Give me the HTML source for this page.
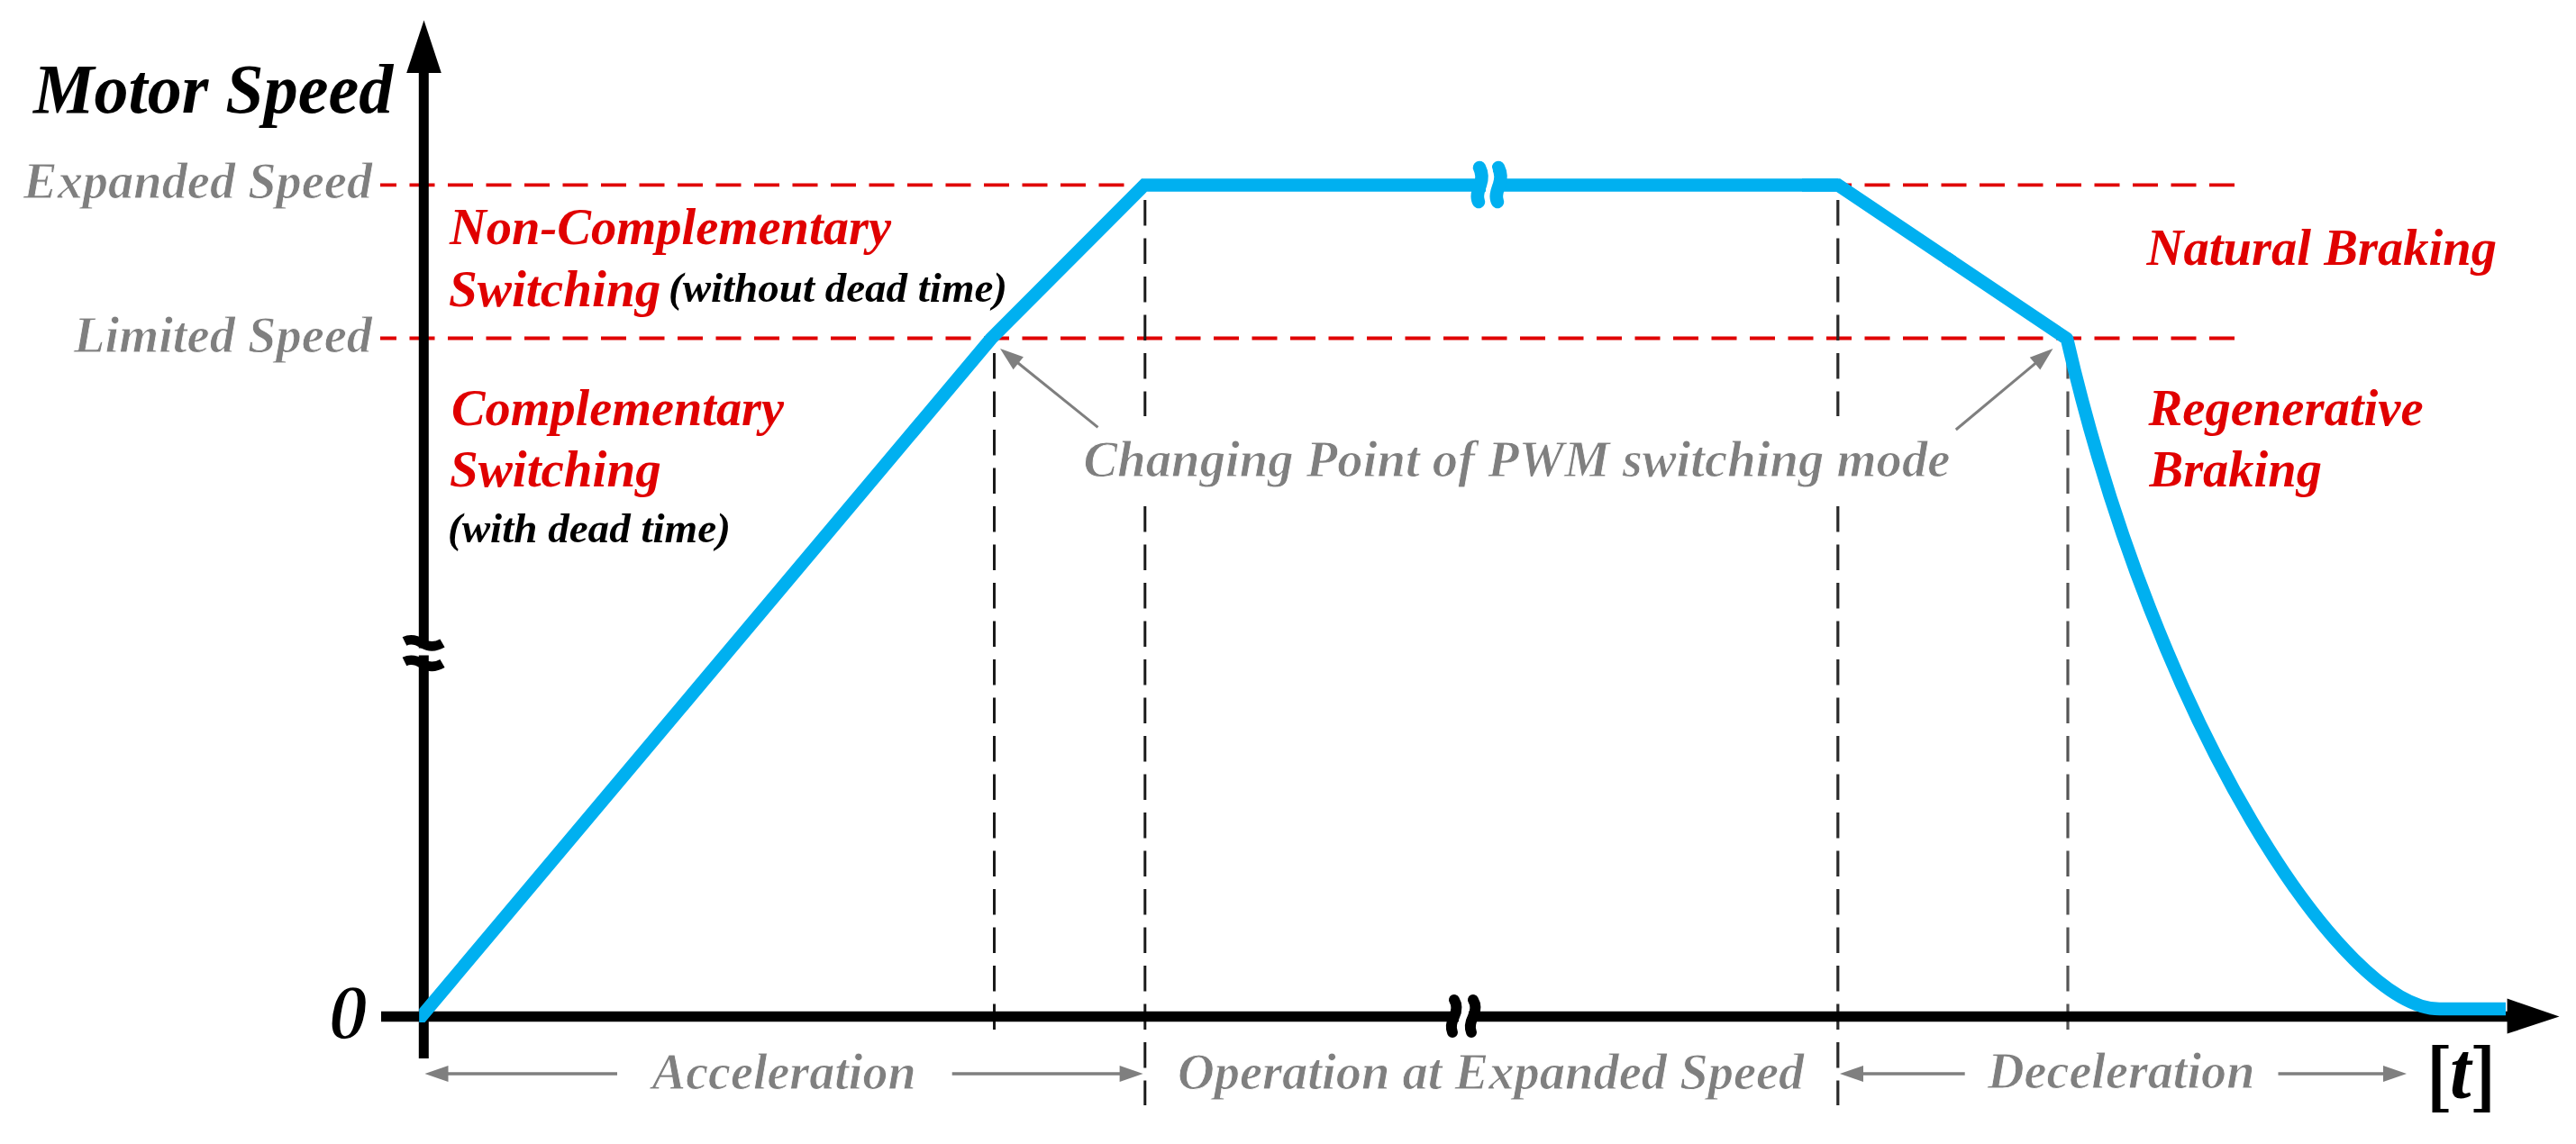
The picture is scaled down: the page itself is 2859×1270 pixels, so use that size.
<!DOCTYPE html>
<html><head><meta charset="utf-8"><style>
html,body{margin:0;padding:0;background:#fff;width:2859px;height:1270px;overflow:hidden}
svg{display:block;will-change:transform}
text{font-family:"Liberation Serif",serif;font-weight:bold;font-style:italic;white-space:pre}
text.g{stroke:#fff;stroke-width:0.8px}
text.n{stroke:#fff;stroke-width:1.6px}
</style></head><body>
<svg width="2859" height="1270" viewBox="0 0 2859 1270">
<defs><clipPath id="c1"><rect x="465.2" y="0" width="2400" height="1135"/></clipPath></defs>
<rect width="2859" height="1270" fill="#fff"/>
<g fill="none">
<path d="M422 205.3H2481" stroke="#e00000" stroke-width="3.8" stroke-dasharray="28 14.5" stroke-dashoffset="10.00"/>
<path d="M422 375.5H2481" stroke="#e00000" stroke-width="3.8" stroke-dasharray="28 14.5" stroke-dashoffset="10.00"/>
<path d="M1103.5 376V1143.5" stroke="#1a1a1a" stroke-width="3" stroke-dasharray="28.5 14" stroke-dashoffset="26.50"/>
<path d="M1270.8 206V1227" stroke="#1a1a1a" stroke-width="3" stroke-dasharray="28.5 14" stroke-dashoffset="26.50"/>
<path d="M2039.8 206V1227" stroke="#2a2a2a" stroke-width="3.2" stroke-dasharray="28.5 14" stroke-dashoffset="26.50"/>
<path d="M2295 376V1143.5" stroke="#555" stroke-width="3.2" stroke-dasharray="28.5 14" stroke-dashoffset="26.50"/>
<rect x="1262" y="462" width="18" height="99" fill="#fff"/><rect x="2031" y="462" width="18" height="99" fill="#fff"/>
<path d="M491.5 1192.0L685.0 1192.0" stroke="#7f7f7f" stroke-width="3.6"/><path d="M471.5 1192.0L497.5 1201.0L497.5 1183.0Z" fill="#7f7f7f"/>
<path d="M1248.6 1192.0L1056.7 1192.0" stroke="#7f7f7f" stroke-width="3.6"/><path d="M1268.6 1192.0L1242.6 1183.0L1242.6 1201.0Z" fill="#7f7f7f"/>
<path d="M2062.0 1192.0L2180.7 1192.0" stroke="#7f7f7f" stroke-width="3.6"/><path d="M2042.0 1192.0L2068.0 1201.0L2068.0 1183.0Z" fill="#7f7f7f"/>
<path d="M2651.0 1192.0L2528.5 1192.0" stroke="#7f7f7f" stroke-width="3.6"/><path d="M2671.0 1192.0L2645.0 1183.0L2645.0 1201.0Z" fill="#7f7f7f"/>
<path d="M1125.6 399.5L1218.5 474.3" stroke="#7f7f7f" stroke-width="3"/><path d="M1110.0 387.0L1124.6 410.3L1135.9 396.3Z" fill="#7f7f7f"/>
<path d="M2263.2 399.8L2170.8 477.0" stroke="#7f7f7f" stroke-width="3"/><path d="M2278.5 387.0L2252.8 396.8L2264.3 410.6Z" fill="#7f7f7f"/>
<path d="M470.3 1175V78" stroke="#000" stroke-width="11"/>
<path d="M470.5 22.5L489.8 81L451.2 81Z" fill="#000"/>
<path d="M423 1128.5H2785" stroke="#000" stroke-width="11.5"/>
<path d="M2840.5 1128.6L2782.6 1147.6L2782.6 1108.6Z" fill="#000"/>
<path clip-path="url(#c1)" d="M459.1 1138.5L1100 376L1270 205.5L2040 205.5" stroke="#00b0f0" stroke-width="14.5" fill="none" stroke-linejoin="miter" stroke-miterlimit="10"/>
<path d="M2000 205.5L2040 205.5L2167 290.75" stroke="#00b0f0" stroke-width="14.5" fill="none" stroke-linejoin="miter" stroke-miterlimit="10"/><path d="M2160 286.06L2294 376C2394.6 812.1 2602.5 1120 2707.4 1120L2781 1120" stroke="#00b0f0" stroke-width="14.5" fill="none" stroke-linejoin="round"/>
<rect x="455" y="719.5" width="30" height="8" fill="#fff"/>
<path d="M449 712C455 709 461 709.5 469 714.5C476 718.5 484 718 491 714" stroke="#000" stroke-width="10.5" fill="none"/>
<path d="M449 734.5C455 731.5 461 732 469 737C476 741 484 740.5 491 736.5" stroke="#000" stroke-width="10.5" fill="none"/>
<rect x="1619" y="1120" width="11" height="17" fill="#fff"/>
<path d="M1614 1110C1617 1115 1617 1122 1614 1128.5C1611 1134.5 1609.5 1140 1612 1146" stroke="#000" stroke-width="12" fill="none" stroke-linecap="round"/>
<path d="M1635 1110C1638 1115 1638 1122 1635 1128.5C1632 1134.5 1630.5 1140 1633 1146" stroke="#000" stroke-width="12" fill="none" stroke-linecap="round"/>
<rect x="1649" y="196" width="10" height="19" fill="#fff"/>
<path d="M1642 186C1645 192 1645 199 1643 205C1641 211 1638 217 1641 224" stroke="#00b0f0" stroke-width="14.5" fill="none" stroke-linecap="round"/>
<path d="M1663 186C1666 192 1666 199 1664 205C1662 211 1659 217 1662 224" stroke="#00b0f0" stroke-width="14.5" fill="none" stroke-linecap="round"/>
<path d="M1653 183C1656 190 1655.5 199 1653.5 205C1651.5 211 1649 218 1652 227" stroke="#fff" stroke-width="4" fill="none"/>
<path d="M2699.5 1160H2717.5V1164H2708.5V1231H2717.5V1235H2699.5Z" fill="#000"/>
<path d="M2763.5 1160H2745.5V1164H2754.5V1231H2745.5V1235H2763.5Z" fill="#000"/>
</g>
<g font-size="58.5">
<text font-size="77.5" transform="translate(36.98 125.00) scale(0.9814 1)" fill="#000">Motor Speed</text>
<text font-size="56.0" class="g" transform="translate(26.01 220.30) scale(1.0078 1)" fill="#7f7f7f">Expanded Speed</text>
<text font-size="56.0" class="g" transform="translate(82.01 391.10) scale(1.0091 1)" fill="#7f7f7f">Limited Speed</text>
<text font-size="56.0" transform="translate(498.91 271.30) scale(1.0103 1)" fill="#e00000">Non-Complementary</text>
<text font-size="56.0" transform="translate(497.98 340.00) scale(1.0219 1)" fill="#e00000">Switching</text>
<text font-size="47.0" transform="translate(742.00 334.80) scale(1.0000 1)" fill="#000">(without dead time)</text>
<text font-size="56.0" transform="translate(500.99 471.70) scale(1.0055 1)" fill="#e00000">Complementary</text>
<text font-size="56.0" transform="translate(498.98 539.60) scale(1.0193 1)" fill="#e00000">Switching</text>
<text font-size="47.0" transform="translate(497.00 602.20) scale(1.0019 1)" fill="#000">(with dead time)</text>
<text font-size="56.0" transform="translate(2382.61 294.30) scale(1.0107 1)" fill="#e00000">Natural Braking</text>
<text font-size="56.0" transform="translate(2384.50 471.70) scale(1.0116 1)" fill="#e00000">Regenerative</text>
<text font-size="56.0" transform="translate(2385.51 539.50) scale(1.0079 1)" fill="#e00000">Braking</text>
<text font-size="56.0" class="g" transform="translate(1202.48 528.60) scale(1.0121 1)" fill="#7f7f7f">Changing Point of PWM switching mode</text>
<text font-size="56.0" class="g" transform="translate(723.81 1208.60) scale(1.0017 1)" fill="#7f7f7f">Acceleration</text>
<text font-size="56.0" class="g" transform="translate(1306.88 1208.60) scale(1.0094 1)" fill="#7f7f7f">Operation at Expanded Speed</text>
<text font-size="56.0" class="g" transform="translate(2206.00 1208.30) scale(1.0034 1)" fill="#7f7f7f">Deceleration</text>
<text font-size="86.0" class="n" transform="translate(364.78 1152.70) scale(1.0077 1)" fill="#000">0</text>
<text font-size="88.0" transform="translate(2719.08 1218.30) scale(0.9600 1)" fill="#000">t</text>
</g>
</svg>
</body></html>
